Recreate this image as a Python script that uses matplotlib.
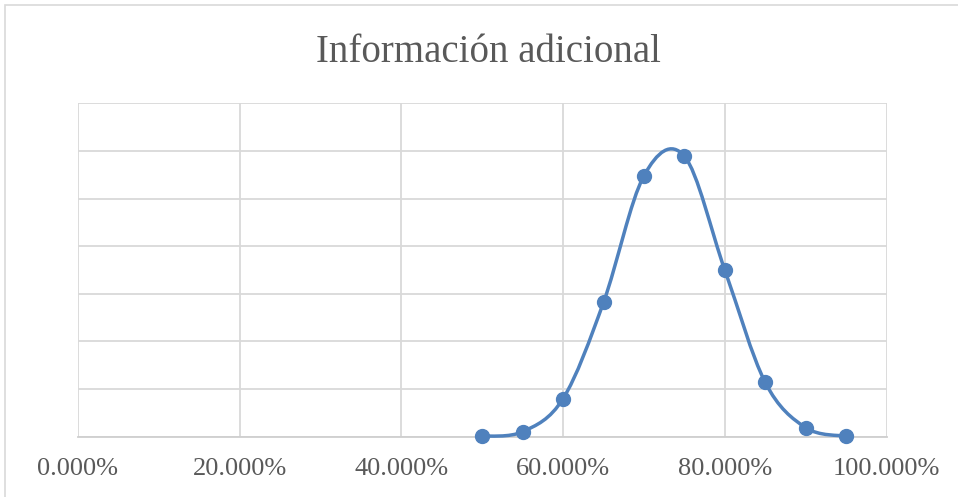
import matplotlib
matplotlib.use("Agg")
import matplotlib.pyplot as plt
import numpy as np
from matplotlib.path import Path
from matplotlib.patches import PathPatch, Rectangle

# Data
x_vals = [0.50, 0.55, 0.60, 0.65, 0.70, 0.75, 0.80, 0.85, 0.90, 0.95]
y_vals = [0.01, 0.105, 0.80, 2.82, 5.48, 5.89, 3.50, 1.14, 0.19, 0.01]
x_ticks = [0.0, 0.2, 0.4, 0.6, 0.8, 1.0]
x_tick_labels = ["0.000%", "20.000%", "40.000%", "60.000%", "80.000%", "100.000%"]
title = "Información adicional"

LINE = "#4F81BD"
GRID = "#D9D9D9"
TXT = "#595959"
FONT = "Liberation Serif"

W, H = 958, 497
fig = plt.figure(figsize=(W / 100, H / 100), dpi=100)
fig.patch.set_facecolor("white")

# outer chart border
fig.patches.append(Rectangle((5 / W, -0.01), 1.02, (1 - 5 / H) + 0.01,
                             transform=fig.transFigure, fill=False,
                             edgecolor="#D9D9D9", linewidth=1.2))

ax = fig.add_axes([78 / W, 1 - 436.7 / H, (886.5 - 78) / W, (436.7 - 103.3) / H])
ax.set_xlim(0, 1)
ax.set_ylim(0, 7)
ax.set_xticks(x_ticks)
ax.set_xticklabels(x_tick_labels, fontfamily=FONT, fontsize=19, color=TXT)
ax.set_yticks(range(0, 8))
ax.set_yticklabels([])
ax.tick_params(axis="both", length=0)
ax.tick_params(axis="x", pad=15)
ax.grid(True, color=GRID, linewidth=1.3)
ax.set_axisbelow(True)
for s in ["top", "right", "left"]:
    ax.spines[s].set_visible(False)
ax.spines["bottom"].set_color("#CFCFCF")
ax.spines["bottom"].set_linewidth(1.3)

# smoothed line (Catmull-Rom style Bezier through the points)
px = np.array(x_vals)
py = np.array(y_vals)
n = len(px)
verts = [(px[0], py[0])]
codes = [Path.MOVETO]
for i in range(n - 1):
    p0 = np.array([px[max(i - 1, 0)], py[max(i - 1, 0)]])
    p1 = np.array([px[i], py[i]])
    p2 = np.array([px[i + 1], py[i + 1]])
    p3 = np.array([px[min(i + 2, n - 1)], py[min(i + 2, n - 1)]])
    c1 = p1 + (p2 - p0) / 6.0
    c2 = p2 - (p3 - p1) / 6.0
    verts += [tuple(c1), tuple(c2), tuple(p2)]
    codes += [Path.CURVE4] * 3
ax.add_patch(PathPatch(Path(verts, codes), fill=False, edgecolor=LINE,
                       linewidth=2.5, capstyle="round", joinstyle="round",
                       clip_on=False, zorder=3))
ax.plot(x_vals, y_vals, linestyle="none", marker="o", markersize=10,
        color=LINE, clip_on=False, zorder=4)

fig.text(488 / W, 1 - 62.5 / H, title, ha="center", va="baseline",
         fontfamily=FONT, fontsize=28, color=TXT)

fig.savefig("out.png", dpi=100)
